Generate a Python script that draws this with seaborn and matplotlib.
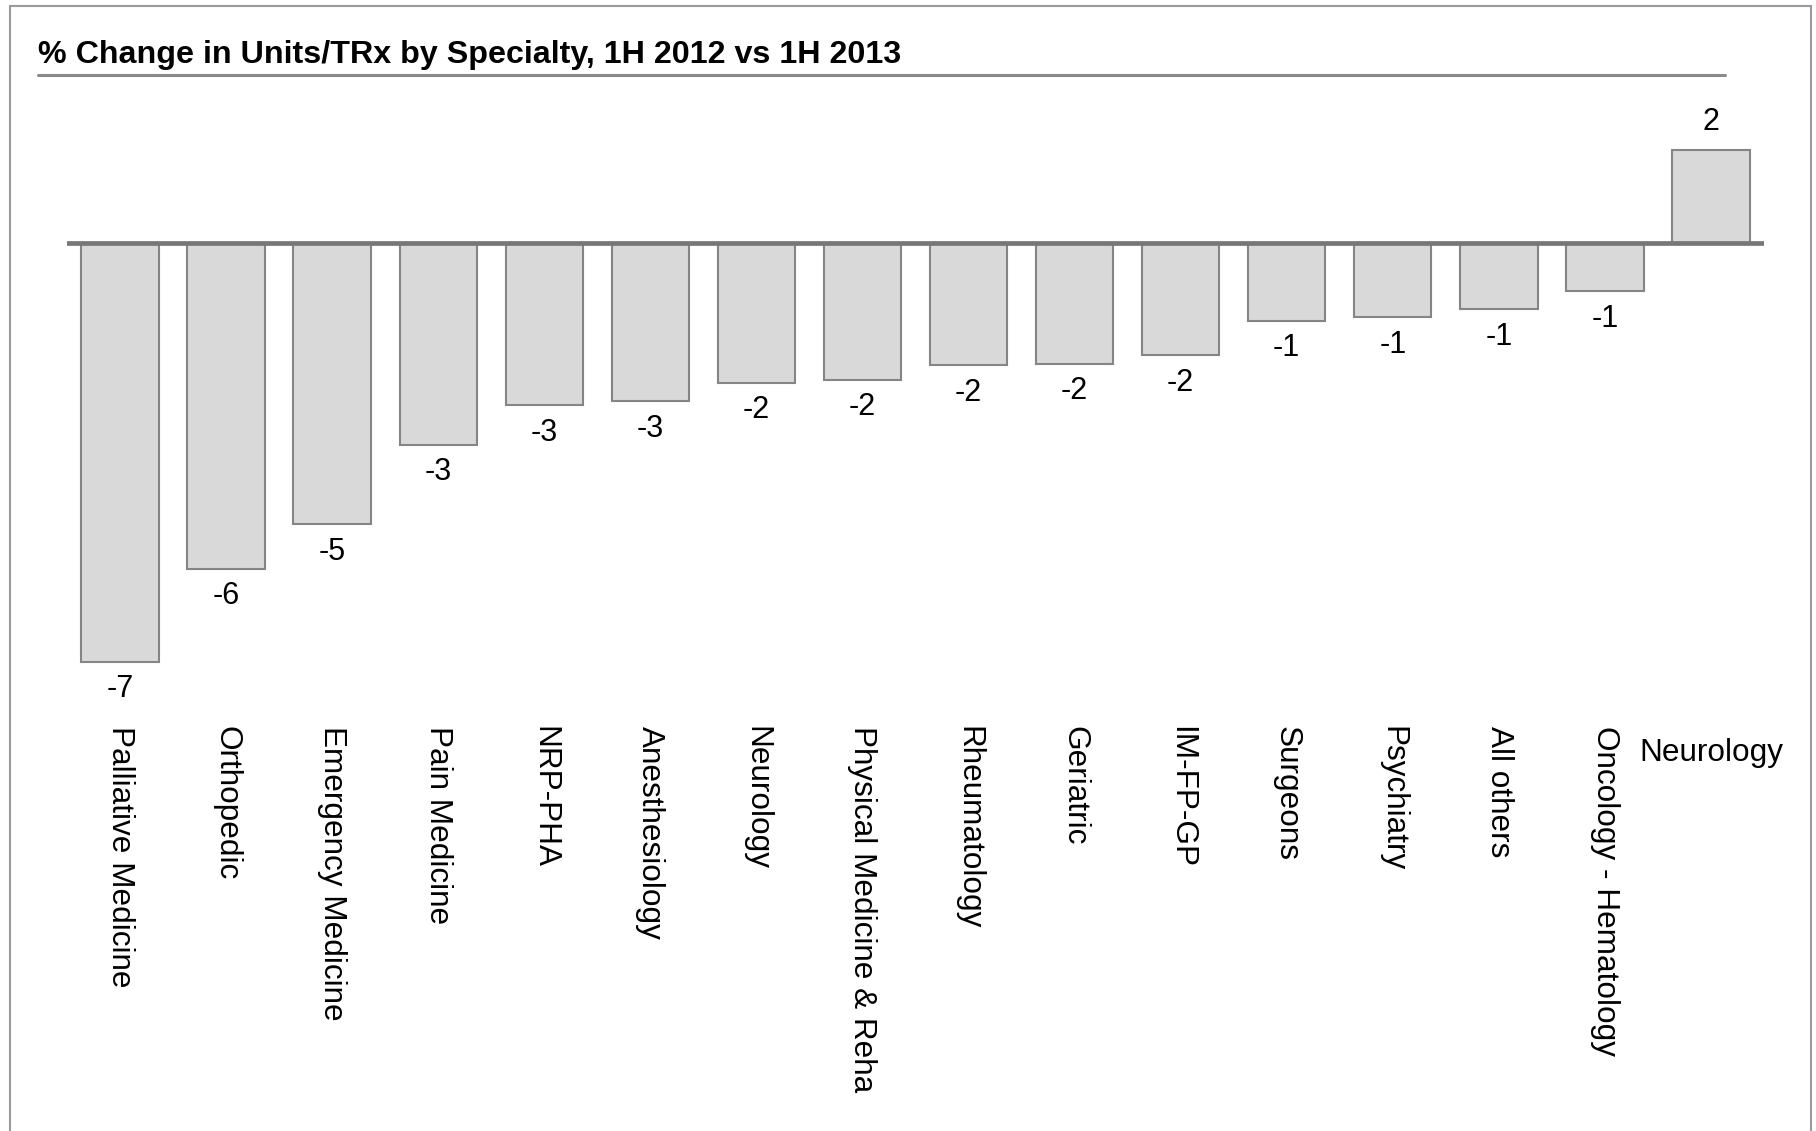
import matplotlib
matplotlib.use("Agg")
import matplotlib.pyplot as plt
import matplotlib.transforms as mtransforms
import seaborn as sns
import pandas as pd
from matplotlib.patches import Rectangle
from matplotlib.lines import Line2D

# ---- data ----
categories = ["Palliative Medicine", "Orthopedic", "Emergency Medicine", "Pain Medicine",
              "NRP-PHA", "Anesthesiology", "Neurology", "Physical Medicine & Reha",
              "Rheumatology", "Geriatric", "IM-FP-GP", "Surgeons", "Psychiatry",
              "All others", "Oncology - Hematology", "Neurology"]
values = [-7.16, -5.57, -4.81, -3.45, -2.77, -2.70, -2.39, -2.34,
          -2.09, -2.06, -1.92, -1.33, -1.27, -1.13, -0.82, 1.60]
title = "% Change in Units/TRx by Specialty, 1H 2012 vs 1H 2013"

sns.set_theme(style="white")
plt.rcParams['font.family'] = ['Liberation Sans', 'DejaVu Sans']

W, H = 1816, 1131
fig = plt.figure(figsize=(W / 100, H / 100), dpi=100)
fig.patch.set_facecolor("white")

# axes placement (pixel-derived)
left, right = 67 / W, 1764 / W
bottom, top = 1 - 700 / H, 1 - 91 / H
ax = fig.add_axes([left, bottom, right - left, top - bottom])

df = pd.DataFrame({"pos": list(range(len(values))), "value": values})
sns.barplot(data=df, x="pos", y="value", ax=ax, color="#d9d9d9", saturation=1,
            width=0.73, edgecolor="#858585", linewidth=1.5, errorbar=None)

ax.set_xlim(-0.5, len(values) - 0.5)
ax.set_ylim(-7.81, 2.6)
ax.axhline(0, color="#777777", lw=3.4, zorder=3)

for s in ax.spines.values():
    s.set_visible(False)
ax.set_yticks([])
ax.set_ylabel("")
ax.set_xlabel("")
ax.set_xticks(range(len(categories)))
ax.set_xticklabels(categories, rotation=270, ha="center", va="top", fontsize=22.7, color="black")
ax.tick_params(axis="x", length=0, pad=19)
# last label horizontal, slightly lower
last = ax.get_xticklabels()[-1]
last.set_rotation(0)
last.set_transform(last.get_transform() +
                   mtransforms.ScaledTranslation(0, -8 / 72, fig.dpi_scale_trans))

ax.bar_label(ax.containers[0], labels=[f"{v:.0f}" for v in values],
             padding=9, fontsize=22, color="black")

# title and underline
fig.text(38 / W, 1 - 55 / H, title, fontsize=23.2, fontweight="bold",
         ha="left", va="center", color="black")
fig.add_artist(Line2D([38 / W, 1725 / W], [1 - 75 / H, 1 - 75 / H],
                      color="#8a8a8a", lw=2.2, transform=fig.transFigure))

# outer frame
fig.add_artist(Rectangle((10 / W, -0.02), (1811 - 10) / W, 1.02 - 6 / H,
                         transform=fig.transFigure, fill=False,
                         edgecolor="#9a9a9a", lw=1.5))

fig.savefig("out.png", dpi=100)
